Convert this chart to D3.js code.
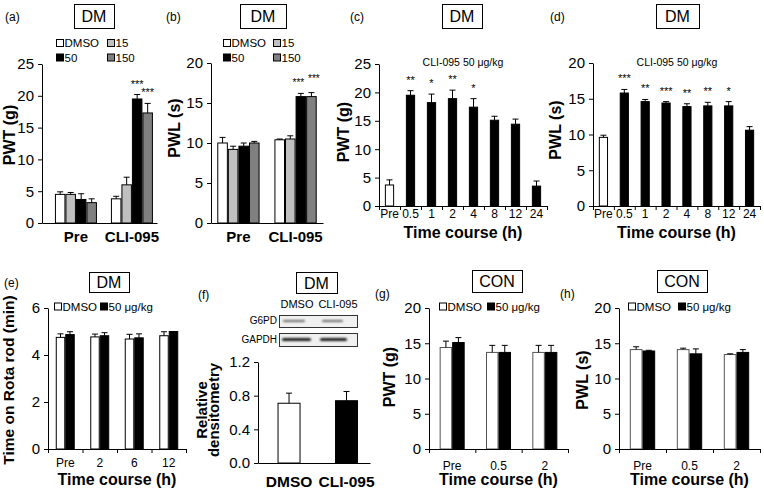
<!DOCTYPE html>
<html><head><meta charset="utf-8">
<script src="https://cdn.jsdelivr.net/npm/d3@7"></script>
<style>body{margin:0;background:#fff}</style>
</head><body>
<svg id="chart" width="764" height="492" xmlns="http://www.w3.org/2000/svg"></svg>
<script>
// ---------- DATA ----------
const abGroups = ["Pre", "CLI-095"];
const doseNames = ["DMSO", "15", "50", "150"];
// (a) PWT (g)
const aDMSO = [4.5, 3.8],  aDMSOErr = [0.4, 0.4];
const a15   = [4.5, 6.0],  a15Err   = [0.3, 1.2];
const a50   = [3.7, 19.5], a50Err   = [0.9, 0.7];
const a150  = [3.2, 17.3], a150Err  = [0.6, 1.5];
const aStars = [["", "", "", ""], ["", "", "***", "***"]];
// (b) PWL (s)
const bDMSO = [10.0, 10.4], bDMSOErr = [0.7, 0.1];
const b15   = [9.2, 10.5],  b15Err   = [0.4, 0.4];
const b50   = [9.6, 15.8],  b50Err   = [0.4, 0.4];
const b150  = [10.0, 15.8], b150Err  = [0.2, 0.5];
const bStars = [["", "", "", ""], ["", "", "***", "***"]];
// (c),(d) time course
const timesCD = ["Pre", "0.5", "1", "2", "4", "8", "12", "24"];
const cMeans = [3.7, 19.5, 18.2, 18.9, 17.4, 15.1, 14.4, 3.5];
const cErr   = [0.9, 0.8, 1.5, 1.5, 1.5, 0.7, 0.9, 0.9];
const cStars = ["", "**", "*", "**", "*", "", "", ""];
const dMeans = [9.6, 15.8, 14.6, 14.4, 13.9, 14.0, 14.0, 10.6];
const dErr   = [0.3, 0.5, 0.3, 0.2, 0.4, 0.5, 0.6, 0.5];
const dStars = ["", "***", "**", "***", "**", "**", "*", ""];
// (e) rota rod
const timesE = ["Pre", "2", "6", "12"];
const eDMSO = [4.75, 4.77, 4.68, 4.82], eDMSOErr = [0.15, 0.12, 0.2, 0.17];
const e50   = [4.87, 4.82, 4.73, 5.0],  e50Err   = [0.12, 0.13, 0.17, 0.0];
// (f) densitometry
const fGroups = ["DMSO", "CLI-095"];
const fMeans = [0.71, 0.74], fErr = [0.12, 0.11];
// (g),(h) CON
const timesGH = ["Pre", "0.5", "2"];
const gDMSO = [14.4, 13.7, 13.7], gDMSOErr = [0.9, 1.0, 1.0];
const g50   = [15.1, 13.7, 13.7], g50Err   = [0.7, 1.0, 1.0];
const hDMSO = [14.1, 14.1, 13.4], hDMSOErr = [0.4, 0.2, 0.1];
const h50   = [13.9, 13.5, 13.7], h50Err   = [0.1, 0.7, 0.4];
const pairNames = ["DMSO", "50 μg/kg"];

// ---------- HELPERS ----------
const svg = d3.select("#chart");
const F = "'Liberation Sans', Arial, Helvetica, sans-serif";
const doseFill = ["#ffffff", "#c0c0c0", "#000000", "#808080"];

function text(x, y, s, o = {}) {
  const t = svg.append("text").attr("x", x).attr("y", y).text(s)
    .attr("font-family", F).attr("font-size", o.size || 12)
    .attr("font-weight", o.bold ? "bold" : "normal")
    .attr("text-anchor", o.anchor || "start").attr("fill", "#000");
  if (o.rotate) t.attr("transform", `rotate(-90,${x},${y})`);
  return t;
}
function titleBox(x0, y0, w, h, s) {
  svg.append("rect").attr("x", x0 + 0.5).attr("y", y0 + 0.5).attr("width", w).attr("height", h)
    .attr("fill", "#fff").attr("stroke", "#000").attr("stroke-width", 1);
  text(x0 + w / 2, y0 + h / 2 + 6, s, {size: 16, anchor: "middle"});
}
function yAxis(x0, y, ticks, fmt, size) {
  const g = svg.append("g").attr("transform", `translate(${x0},0)`)
    .call(d3.axisLeft(y).tickValues(ticks).tickFormat(fmt).tickSize(4).tickSizeOuter(0).tickPadding(4));
  g.selectAll("text").attr("font-family", F).attr("font-size", size).attr("fill", "#000");
  g.selectAll("line,path").attr("stroke", "#000");
}
function xAxis(y0, x, pad, size, bold, ticks) {
  const g = svg.append("g").attr("transform", `translate(0,${y0})`)
    .call(d3.axisBottom(x).tickSize(0).tickSizeOuter(0).tickPadding(pad));
  g.selectAll("text").attr("font-family", F).attr("font-size", size)
    .attr("font-weight", bold ? "bold" : "normal").attr("fill", "#000");
  g.select(".domain").attr("stroke", "#000");
  if (ticks) {
    const n = x.domain().length, r0 = x.range()[0], st = x.step();
    g.selectAll("line.b").data(d3.range(n + 1)).join("line").attr("class", "b")
      .attr("x1", i => r0 + i * st + 0.5).attr("x2", i => r0 + i * st + 0.5)
      .attr("y1", 0).attr("y2", 4).attr("stroke", "#000");
  }
}
function drawBars(xs, w, vals, errs, y, fillFn, stroke) {
  const d = vals.map((v, i) => ({x: xs[i], v, e: errs[i], i}));
  const g = svg.append("g");
  g.selectAll("rect").data(d).join("rect")
    .attr("x", d => d.x + 0.5).attr("y", d => y(d.v)).attr("width", w - 1)
    .attr("height", d => y(0) - y(d.v))
    .attr("fill", d => fillFn(d.i)).attr("stroke", stroke).attr("stroke-width", 1);
  const e = d.filter(d => d.e > 0);
  g.selectAll("line.v").data(e).join("line").attr("class", "v")
    .attr("x1", d => d.x + w / 2).attr("x2", d => d.x + w / 2)
    .attr("y1", d => y(d.v)).attr("y2", d => y(d.v + d.e)).attr("stroke", "#000");
  g.selectAll("line.c").data(e).join("line").attr("class", "c")
    .attr("x1", d => d.x + w / 2 - 3).attr("x2", d => d.x + w / 2 + 3)
    .attr("y1", d => y(d.v + d.e)).attr("y2", d => y(d.v + d.e)).attr("stroke", "#000");
}
function stars(xc, yTop, s, size = 11) { if (s) text(xc, yTop - 7, s, {size, anchor: "middle"}); }
function legendItem(x, yc, fill, label, size) {
  svg.append("rect").attr("x", x + 0.5).attr("y", yc - 3.5).attr("width", 7).attr("height", 7)
    .attr("fill", fill).attr("stroke", "#000");
  text(x + 8.5, yc + size * 0.36, label, {size});
}

// ---------- (a) & (b) ----------
function doseChart(cfg) {
  const y = d3.scaleLinear().domain([0, cfg.max]).range([cfg.y0, cfg.yTop]);
  const x0 = d3.scaleBand().domain(abGroups).range(cfg.xr)
    .paddingInner(cfg.pi).paddingOuter(cfg.po).align(cfg.align);
  const x1 = d3.scaleBand().domain(doseNames).range([0, x0.bandwidth()]);
  cfg.series.forEach((vals, k) => {
    const xs = abGroups.map(g => x0(g) + x1(doseNames[k]));
    drawBars(xs, x1.bandwidth(), vals, cfg.errs[k], y, () => doseFill[k], "#000");
    abGroups.forEach((g, gi) => {
      // nudge neighbouring star labels apart a little, as in the figure
      const nudge = k === 2 ? -cfg.nudge : k === 3 ? cfg.nudge : 0;
      const up = k === 3 ? cfg.lift : 0;
      stars(xs[gi] + x1.bandwidth() / 2 + nudge, y(vals[gi] + cfg.errs[k][gi]) - up, cfg.stars[gi][k], cfg.starSize);
    });
  });
  yAxis(cfg.xr[0], y, cfg.ticks, d3.format("d"), 15);
  xAxis(cfg.y0, x0, 8.5, 15, true, false);
  doseNames.forEach((n, k) => legendItem(cfg.leg[k % 2], k < 2 ? 43 : 57.5, doseFill[k], n, 11.5));
}
doseChart({max: 25, y0: 223, yTop: 64, xr: [42, 157], pi: 0.25, po: 0.152, align: 0.76,
  series: [aDMSO, a15, a50, a150], errs: [aDMSOErr, a15Err, a50Err, a150Err], stars: aStars,
  ticks: [0, 5, 10, 15, 20, 25], leg: [56, 107], nudge: 0, lift: 0, starSize: 11});
doseChart({max: 20, y0: 223, yTop: 63, xr: [211, 323], pi: 0.26, po: 0.11, align: 0.5,
  series: [bDMSO, b15, b50, b150], errs: [bDMSOErr, b15Err, b50Err, b150Err], stars: bStars,
  ticks: [0, 5, 10, 15, 20], leg: [223, 273], nudge: 2.5, lift: 4, starSize: 10});
text(5, 21, "(a)", {size: 12}); text(166, 21, "(b)", {size: 12});
titleBox(74, 4, 40, 24, "DM"); titleBox(240, 4, 46, 24, "DM");
text(15, 135, "PWT (g)", {size: 16, bold: true, anchor: "middle", rotate: true});
text(180, 128, "PWL (s)", {size: 16, bold: true, anchor: "middle", rotate: true});

// ---------- (c) & (d) ----------
function timeChart(cfg) {
  const y = d3.scaleLinear().domain([0, cfg.max]).range([206, cfg.yTop]);
  const x = d3.scaleBand().domain(timesCD).range(cfg.xr).paddingInner(0.56).paddingOuter(0.28);
  const xs = timesCD.map(t => x(t));
  drawBars(xs, x.bandwidth(), cfg.vals, cfg.errs, y, i => i === 0 ? "#fff" : "#000", "#000");
  timesCD.forEach((t, i) => stars(x(t) + x.bandwidth() / 2, y(cfg.vals[i] + cfg.errs[i]), cfg.stars[i]));
  yAxis(cfg.xr[0], y, cfg.ticks, d3.format("d"), 15);
  xAxis(206, x, 3.5, 12, false, true);
  const cx = (cfg.xr[0] + cfg.xr[1]) / 2;
  text(cfg.sub, 66, "CLI-095 50 μg/kg", {size: 10.5, anchor: "middle"});
  text(cx, 238, "Time course (h)", {size: 16, bold: true, anchor: "middle"});
}
timeChart({max: 25, yTop: 64, xr: [379, 547], vals: cMeans, errs: cErr, stars: cStars,
  ticks: [0, 5, 10, 15, 20, 25], sub: 463});
timeChart({max: 20, yTop: 63, xr: [593, 760], vals: dMeans, errs: dErr, stars: dStars,
  ticks: [0, 5, 10, 15, 20], sub: 677});
text(350, 21, "(c)", {size: 12}); text(550, 21, "(d)", {size: 12});
titleBox(442, 4, 40, 24, "DM"); titleBox(656, 4, 43, 24, "DM");
text(349, 132, "PWT (g)", {size: 16, bold: true, anchor: "middle", rotate: true});
text(561, 130, "PWL (s)", {size: 16, bold: true, anchor: "middle", rotate: true});

// ---------- (e), (g), (h) paired charts ----------
function pairChart(cfg) {
  const y = d3.scaleLinear().domain([0, cfg.max]).range([449, 308]);
  const x0 = d3.scaleBand().domain(cfg.cats).range(cfg.xr).paddingInner(cfg.pi).paddingOuter(cfg.pi / 2);
  const x1 = d3.scaleBand().domain(pairNames).range([0, x0.bandwidth()]);
  [cfg.a, cfg.b].forEach((vals, k) => {
    const xs = cfg.cats.map(c => x0(c) + x1(pairNames[k]));
    drawBars(xs, x1.bandwidth(), vals, k ? cfg.bErr : cfg.aErr, y,
      () => k ? "#000" : "#fff", k ? "#000" : cfg.wStroke);
  });
  yAxis(cfg.xr[0], y, cfg.ticks, d3.format("d"), 15);
  xAxis(449, x0, cfg.pad, 12, false, true);
  text((cfg.xr[0] + cfg.xr[1]) / 2, 485, "Time course (h)", {size: 16, bold: true, anchor: "middle"});
  legendItem(cfg.leg[0], 306.5, "#fff", pairNames[0], 11.5);
  legendItem(cfg.leg[1], 306.5, "#000", pairNames[1], 11.5);
}
pairChart({max: 6, cats: timesE, xr: [48, 186], pi: 0.45, a: eDMSO, aErr: eDMSOErr, b: e50, bErr: e50Err,
  ticks: [0, 2, 4, 6], pad: 9, leg: [54, 100], wStroke: "#000"});
pairChart({max: 20, cats: timesGH, xr: [429, 568], pi: 0.46, a: gDMSO, aErr: gDMSOErr, b: g50, bErr: g50Err,
  ticks: [0, 5, 10, 15, 20], pad: 12, leg: [439, 487], wStroke: "#555"});
pairChart({max: 20, cats: timesGH, xr: [619, 760], pi: 0.46, a: hDMSO, aErr: hDMSOErr, b: h50, bErr: h50Err,
  ticks: [0, 5, 10, 15, 20], pad: 12, leg: [628, 678], wStroke: "#555"});
text(4, 287, "(e)", {size: 12}); text(375, 298, "(g)", {size: 12}); text(560, 298, "(h)", {size: 12});
titleBox(89, 272, 40, 20, "DM"); titleBox(472, 270, 50, 22, "CON"); titleBox(657, 270, 50, 22, "CON");
text(14, 380, "Time on Rota rod (min)", {size: 15.5, bold: true, anchor: "middle", rotate: true});
text(395, 377, "PWT (g)", {size: 16, bold: true, anchor: "middle", rotate: true});
text(588, 380, "PWL (s)", {size: 16, bold: true, anchor: "middle", rotate: true});

// ---------- (f) ----------
(function () {
  const y = d3.scaleLinear().domain([0, 1.2]).range([463, 362]);
  const x = d3.scaleBand().domain(fGroups).range([258, 370]).paddingInner(0.6).paddingOuter(0.274).align(0.62);
  drawBars(fGroups.map(g => x(g)), x.bandwidth(), fMeans, fErr, y, i => i ? "#000" : "#fff", "#000");
  yAxis(258, y, [0, 0.4, 0.8, 1.2], d3.format(".1f"), 15);
  xAxis(463, x, 13, 15.5, true, false);
  text(198, 299, "(f)", {size: 12});
  titleBox(296, 272, 41, 21, "DM");
  text(207, 410, "Relative", {size: 15, bold: true, anchor: "middle", rotate: true});
  text(219, 410, "densitometry", {size: 15, bold: true, anchor: "middle", rotate: true});
  // western blot
  const defs = svg.append("defs");
  defs.append("filter").attr("id", "bl").attr("x", "-20%").attr("y", "-300%")
    .attr("width", "140%").attr("height", "700%")
    .append("feGaussianBlur").attr("stdDeviation", 0.8);
  text(297, 308, "DMSO", {size: 11, anchor: "middle"});
  text(338, 308, "CLI-095", {size: 11, anchor: "middle"});
  text(277, 324, "G6PD", {size: 10, anchor: "end"});
  text(277, 343, "GAPDH", {size: 10, anchor: "end"});
  [[315, 12, 321, 2.2, "#666", [[283, 305], [322, 343]]], [333, 13, 339.5, 3, "#1a1a1a", [[282, 311], [320, 347]]]]
    .forEach(([y0, h, yb, th, col, bands]) => {
      svg.append("rect").attr("x", 279.5).attr("y", y0 + 0.5).attr("width", 78).attr("height", h)
        .attr("fill", "#f0f0f0").attr("stroke", "#333");
      bands.forEach(([a, b]) => svg.append("rect").attr("x", a).attr("width", b - a)
        .attr("y", yb - th / 2).attr("height", th).attr("rx", th / 2)
        .attr("fill", col).attr("filter", "url(#bl)"));
    });
})();
</script>
</body></html>
